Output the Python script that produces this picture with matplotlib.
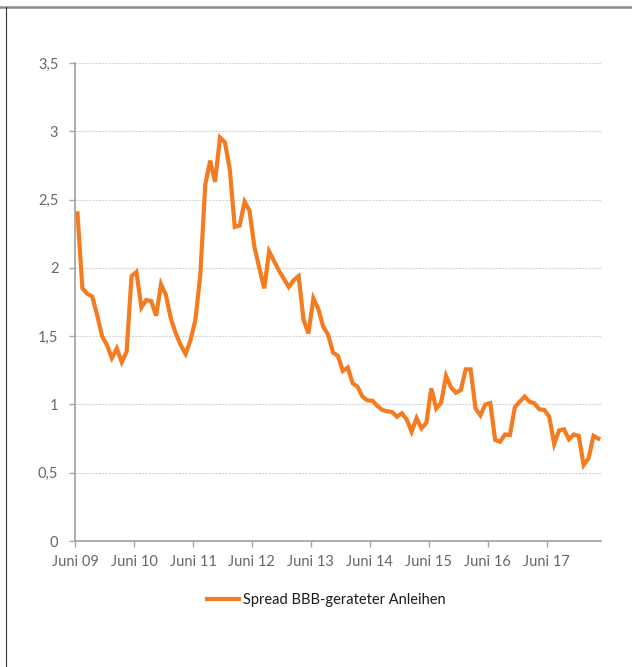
import matplotlib
matplotlib.use("Agg")
import matplotlib.pyplot as plt
from matplotlib.lines import Line2D
import numpy as np

# monthly spread values, Juni 2009 .. Apr 2018
spread = [
    2.40, 1.85, 1.81, 1.79, 1.655, 1.50, 1.435, 1.34, 1.41, 1.31,
    1.386, 1.94, 1.97, 1.71, 1.765, 1.757, 1.65, 1.88, 1.80, 1.63,
    1.52, 1.435, 1.37, 1.47, 1.62, 1.95, 2.61, 2.785, 2.63, 2.955,
    2.92, 2.72, 2.30, 2.31, 2.485, 2.42, 2.155, 2.00, 1.85, 2.12,
    2.05, 1.98, 1.92, 1.86, 1.91, 1.94, 1.62, 1.52, 1.777, 1.70,
    1.57, 1.51, 1.38, 1.355, 1.245, 1.27, 1.155, 1.13, 1.057, 1.03,
    1.027, 0.99, 0.96, 0.95, 0.945, 0.91, 0.935, 0.89, 0.80, 0.90,
    0.825, 0.866, 1.118, 0.97, 1.013, 1.21, 1.125, 1.086, 1.105, 1.257,
    1.257, 0.97, 0.92, 1.00, 1.01, 0.74, 0.727, 0.78, 0.776, 0.98,
    1.02, 1.057, 1.02, 1.008, 0.964, 0.96, 0.91, 0.71, 0.81, 0.818,
    0.745, 0.78, 0.77, 0.556, 0.605, 0.77, 0.75,
]
year_labels = ["Juni 09", "Juni 10", "Juni 11", "Juni 12", "Juni 13",
               "Juni 14", "Juni 15", "Juni 16", "Juni 17"]
y_ticks = [0, 0.5, 1, 1.5, 2, 2.5, 3, 3.5]
series_name = "Spread BBB-gerateter Anleihen"

plt.rcParams["font.family"] = ["Lato", "DejaVu Sans"]

fig = plt.figure(figsize=(6.32, 6.67), dpi=100)
ax = fig.add_axes([0.1187, 0.1889, 0.832, 0.7166])

n = len(spread)
x = np.arange(n) + 0.5
ax.plot(x, spread, color="#F47B20", lw=3.0, solid_joinstyle="miter",
        label=series_name)

ax.set_xlim(0, n)
ax.set_ylim(0, 3.5)
ax.set_xticks(np.arange(len(year_labels)) * 12)
ax.set_xticklabels(year_labels)
ax.set_yticks(y_ticks)
ax.set_yticklabels([("%g" % v).replace(".", ",") for v in y_ticks])

ax.grid(axis="y", color="#d4d4d4", lw=0.8, ls=(0, (2, 1)))
ax.set_axisbelow(True)
for s in ["top", "right"]:
    ax.spines[s].set_visible(False)
for s in ["left", "bottom"]:
    ax.spines[s].set_color("#a6a6a6")
    ax.spines[s].set_linewidth(1.3)
ax.tick_params(axis="both", colors="#a6a6a6", labelcolor="#666666",
               labelsize=10.5, width=1.0, length=4)
ax.tick_params(axis="x", pad=6)
ax.tick_params(axis="y", pad=8)

fig.legend(loc="center", bbox_to_anchor=(0.516, 0.1004), frameon=False,
           fontsize=10.5, handlelength=2.2, handletextpad=0.3,
           labelcolor="#1a1a1a")

# frame lines of the original graphic
fig.add_artist(Line2D([0, 1], [1 - 7.3 / 667] * 2, color="#8c8c8c", lw=1.8))
fig.add_artist(Line2D([6 / 632] * 2, [0, 1 - 7.3 / 667], color="#333333", lw=0.8))

fig.savefig("out.png", dpi=100)
